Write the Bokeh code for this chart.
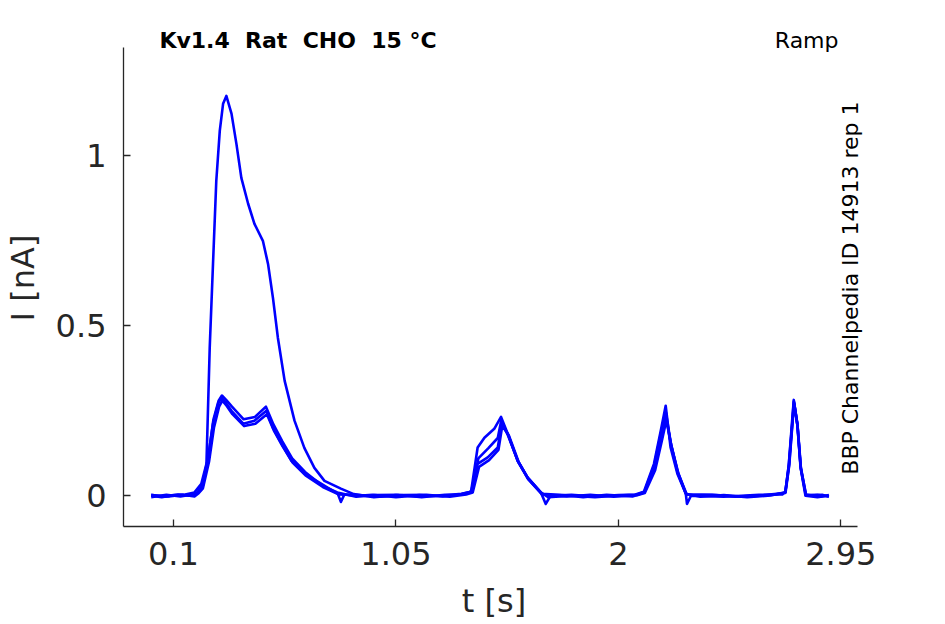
import math
from bokeh.plotting import figure
from bokeh.models import Range1d, Label, FixedTicker
from bokeh.embed import file_html
from bokeh.resources import INLINE

# ---- data ----
x_ticks = [0.1, 1.05, 2.0, 2.95]
x_tick_labels = {0.1: "0.1", 1.05: "1.05", 2.0: "2", 2.95: "2.95"}
y_ticks = [0.0, 0.5, 1.0]
y_tick_labels = {0.0: "0", 0.5: "0.5", 1.0: "1"}
x_axis_extent = (-0.1132, 3.020)
y_axis_extent = (-0.0903, 1.3194)

trace_a = [  # large first response
    (0.005, 0.0), (0.05, -0.004), (0.10, 0.002), (0.15, 0.004), (0.19, 0.010),
    (0.219, 0.035), (0.241, 0.094), (0.255, 0.436), (0.269, 0.682), (0.283, 0.926),
    (0.298, 1.074), (0.312, 1.153), (0.326, 1.176), (0.348, 1.124), (0.369, 1.035),
    (0.390, 0.935), (0.419, 0.859), (0.446, 0.800), (0.482, 0.750), (0.504, 0.682),
    (0.525, 0.582), (0.546, 0.465), (0.575, 0.338), (0.617, 0.221), (0.659, 0.141),
    (0.702, 0.082), (0.745, 0.044), (0.815, 0.021), (0.87, 0.005), (0.956, -0.004),
    (1.05, 0.002), (1.15, -0.003), (1.25, 0.001), (1.33, 0.006), (1.371, 0.012),
    (1.399, 0.142), (1.428, 0.171), (1.470, 0.197), (1.499, 0.232), (1.528, 0.182),
    (1.570, 0.103), (1.612, 0.054), (1.669, 0.010), (1.70, -0.004), (1.80, 0.0),
    (1.90, -0.004), (2.00, 0.001), (2.07, 0.003), (2.109, 0.012), (2.152, 0.094),
    (2.181, 0.191), (2.202, 0.265), (2.223, 0.142), (2.252, 0.065), (2.288, 0.006),
    (2.35, -0.003), (2.45, 0.002), (2.55, -0.004), (2.65, 0.001), (2.713, 0.010),
    (2.728, 0.094), (2.742, 0.221), (2.749, 0.282), (2.764, 0.212), (2.778, 0.083),
    (2.799, 0.0), (2.85, -0.004), (2.899, 0.001),
]

trace_b = [
    (0.005, 0.003), (0.06, -0.003), (0.12, 0.004), (0.17, 0.0), (0.20, 0.008),
    (0.222, 0.029), (0.248, 0.112), (0.269, 0.212), (0.291, 0.271), (0.305, 0.288),
    (0.322, 0.275), (0.348, 0.250), (0.398, 0.212), (0.446, 0.221), (0.497, 0.250),
    (0.525, 0.200), (0.562, 0.153), (0.604, 0.103), (0.659, 0.065), (0.732, 0.035),
    (0.802, 0.006), (0.815, -0.018), (0.830, 0.004), (0.888, 0.0), (0.95, 0.003),
    (1.05, -0.004), (1.15, 0.002), (1.25, -0.002), (1.33, 0.005), (1.371, 0.012),
    (1.399, 0.094), (1.442, 0.113), (1.485, 0.142), (1.502, 0.212), (1.528, 0.182),
    (1.570, 0.103), (1.612, 0.054), (1.669, 0.010), (1.690, -0.024), (1.71, 0.0),
    (1.80, 0.003), (1.90, -0.002), (2.00, 0.002), (2.08, 0.004), (2.112, 0.012),
    (2.155, 0.080), (2.183, 0.170), (2.204, 0.230), (2.225, 0.150), (2.254, 0.070),
    (2.288, 0.006), (2.293, -0.024), (2.31, 0.0), (2.45, -0.003), (2.60, 0.003),
    (2.70, 0.004), (2.713, 0.012), (2.729, 0.090), (2.743, 0.215), (2.750, 0.275),
    (2.765, 0.205), (2.779, 0.080), (2.800, 0.002), (2.85, 0.003), (2.899, -0.002),
]

trace_c = [
    (0.005, -0.004), (0.07, 0.003), (0.13, -0.002), (0.18, 0.004), (0.20, 0.006),
    (0.224, 0.025), (0.250, 0.120), (0.271, 0.225), (0.293, 0.280), (0.307, 0.295),
    (0.325, 0.282), (0.350, 0.262), (0.400, 0.225), (0.448, 0.232), (0.495, 0.262),
    (0.527, 0.210), (0.565, 0.160), (0.607, 0.110), (0.662, 0.070), (0.735, 0.030),
    (0.800, 0.010), (0.880, -0.003), (0.96, 0.002), (1.06, 0.003), (1.16, -0.004),
    (1.26, 0.003), (1.34, 0.004), (1.375, 0.014), (1.402, 0.110), (1.445, 0.140),
    (1.485, 0.170), (1.500, 0.222), (1.530, 0.175), (1.572, 0.100), (1.614, 0.050),
    (1.672, 0.006), (1.75, 0.003), (1.85, -0.004), (1.95, 0.003), (2.06, -0.002),
    (2.110, 0.010), (2.153, 0.090), (2.182, 0.185), (2.203, 0.245), (2.224, 0.155),
    (2.253, 0.068), (2.290, 0.004), (2.40, 0.003), (2.50, -0.003), (2.62, 0.002),
    (2.712, 0.008), (2.727, 0.085), (2.742, 0.210), (2.749, 0.278), (2.764, 0.215),
    (2.778, 0.088), (2.801, 0.004), (2.86, -0.003), (2.899, 0.002),
]

trace_d = [
    (0.005, 0.002), (0.08, -0.002), (0.14, 0.003), (0.19, -0.002), (0.205, 0.006),
    (0.226, 0.022), (0.252, 0.100), (0.273, 0.200), (0.295, 0.262), (0.309, 0.280),
    (0.327, 0.265), (0.352, 0.240), (0.402, 0.205), (0.450, 0.212), (0.499, 0.240),
    (0.529, 0.192), (0.567, 0.145), (0.609, 0.098), (0.664, 0.060), (0.738, 0.026),
    (0.805, 0.004), (0.890, 0.002), (0.98, -0.003), (1.08, 0.002), (1.18, 0.003),
    (1.28, -0.003), (1.35, 0.004), (1.378, 0.010), (1.405, 0.085), (1.448, 0.105),
    (1.488, 0.135), (1.504, 0.205), (1.532, 0.178), (1.575, 0.098), (1.616, 0.048),
    (1.675, 0.004), (1.78, -0.002), (1.88, 0.003), (1.98, -0.003), (2.08, 0.002),
    (2.113, 0.008), (2.157, 0.075), (2.185, 0.160), (2.205, 0.222), (2.227, 0.145),
    (2.256, 0.066), (2.292, 0.004), (2.42, 0.002), (2.53, -0.003), (2.66, 0.003),
    (2.714, 0.010), (2.730, 0.092), (2.744, 0.218), (2.751, 0.270), (2.766, 0.200),
    (2.780, 0.078), (2.802, 0.0), (2.87, 0.003), (2.899, -0.003),
]

traces = [trace_a, trace_b, trace_c, trace_d]

title_text = "Kv1.4\u00a0 Rat\u00a0 CHO\u00a0 15 °C"
protocol_text = "Ramp"
source_text = "BBP Channelpedia ID 14913 rep 1"

# ---- figure ----
AX = "#262626"
p = figure(width=940, height=622, output_backend="svg", toolbar_location=None,
           x_range=Range1d(-0.1132, 3.0510), y_range=Range1d(-0.0903, 1.3715),
           min_border_left=122, min_border_right=76, min_border_top=29,
           min_border_bottom=96)
p.outline_line_color = None
p.grid.visible = False
p.background_fill_color = "white"
p.border_fill_color = "white"

for tr in traces:
    xs = [pt[0] for pt in tr]
    ys = [pt[1] for pt in tr]
    p.line(xs, ys, line_color="#0000ff", line_width=2.6, line_join="round")

for ax in (p.xaxis[0], p.yaxis[0]):
    ax.axis_line_color = AX
    ax.axis_line_width = 1.3
    ax.major_tick_line_color = AX
    ax.major_tick_line_width = 1.3
    ax.major_tick_in = 7
    ax.major_tick_out = 0
    ax.minor_tick_line_color = None
    ax.major_label_text_font = "DejaVu Sans"
    ax.major_label_text_font_size = "32px"
    ax.major_label_text_color = AX
    ax.axis_label_text_font = "DejaVu Sans"
    ax.axis_label_text_font_size = "32px"
    ax.axis_label_text_color = AX
    ax.axis_label_text_font_style = "normal"

p.xaxis[0].bounds = x_axis_extent
p.xaxis[0].ticker = FixedTicker(ticks=x_ticks)
p.xaxis[0].major_label_overrides = x_tick_labels
p.xaxis[0].axis_label = "t [s]"
p.xaxis[0].major_label_standoff = 15
p.xaxis[0].axis_label_standoff = 14

p.yaxis[0].bounds = y_axis_extent
p.yaxis[0].ticker = FixedTicker(ticks=y_ticks)
p.yaxis[0].major_label_overrides = y_tick_labels
p.yaxis[0].axis_label = "I [nA]"
p.yaxis[0].major_label_standoff = 17
p.yaxis[0].axis_label_standoff = 11

p.add_layout(Label(x=0.040, y=1.339, text=title_text, text_font="DejaVu Sans",
                   text_font_style="bold", text_font_size="22px", text_color="black",
                   text_baseline="alphabetic", text_align="left"))
p.add_layout(Label(x=2.940, y=1.339, text=protocol_text, text_font="DejaVu Sans",
                   text_font_size="22px", text_color="black",
                   text_baseline="alphabetic", text_align="right"))
p.add_layout(Label(x=2.993, y=0.611, text=source_text, text_font="DejaVu Sans",
                   text_font_size="22px", text_color="black", angle=math.pi / 2,
                   text_baseline="middle", text_align="center"))

open("out.html", "w").write(file_html(p, INLINE))
